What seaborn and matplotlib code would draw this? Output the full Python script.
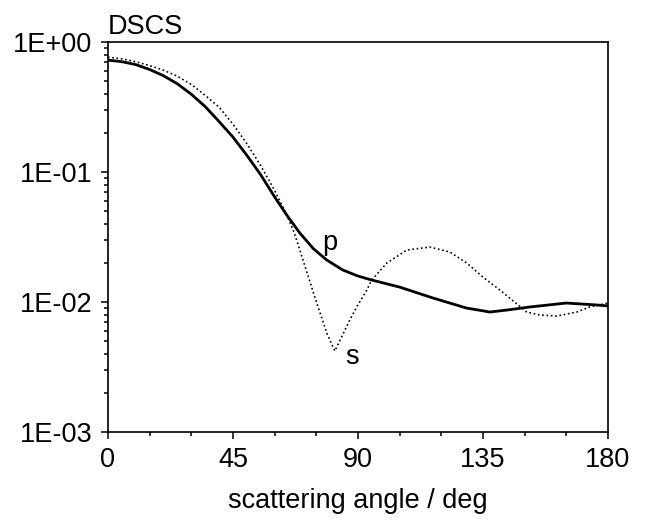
import numpy as np
import pandas as pd
import seaborn as sns
import matplotlib.pyplot as plt
from matplotlib.ticker import FixedLocator, FuncFormatter, LogLocator, NullFormatter

# values (angle in deg, log10 of DSCS)
p_angle = [0, 5, 10, 15, 20, 25, 30, 35, 40, 45, 50, 55, 60, 64.4, 69.1, 74, 78.8,
           84.6, 90, 95, 105, 117, 129, 137.5, 143.6, 152, 165, 176, 180]
p_log = [-0.138, -0.150, -0.172, -0.210, -0.258, -0.320, -0.400, -0.495, -0.610,
         -0.730, -0.870, -1.020, -1.190, -1.331, -1.469, -1.590, -1.677, -1.754,
         -1.800, -1.831, -1.885, -1.969, -2.046, -2.077, -2.062, -2.038, -2.008,
         -2.023, -2.030]

s_angle = [0, 5, 10, 15, 20, 25, 30, 35, 40, 45, 50, 55, 60, 64.4, 67, 69.1, 71.6,
           75.2, 78.8, 81.7, 87.1, 90, 93.2, 95, 100.4, 107.6, 115.9, 123.1, 129.2,
           135, 141.1, 150.8, 155.5, 161.6, 168.8, 173.5, 180]
s_log = [-0.115, -0.128, -0.150, -0.180, -0.215, -0.262, -0.325, -0.408, -0.500,
         -0.630, -0.780, -0.950, -1.140, -1.331, -1.462, -1.600, -1.769, -2.008,
         -2.238, -2.377, -2.138, -2.023, -1.908, -1.831, -1.700, -1.600, -1.577,
         -1.615, -1.700, -1.808, -1.908, -2.077, -2.100, -2.108, -2.077, -2.038,
         -2.008]

df_p = pd.DataFrame({'angle': p_angle, 'dscs': np.power(10.0, p_log)})
df_s = pd.DataFrame({'angle': s_angle, 'dscs': np.power(10.0, s_log)})

sns.set_theme(style='ticks')
plt.rcParams['font.family'] = ['Liberation Sans', 'DejaVu Sans']
plt.rcParams['text.color'] = 'black'
plt.rcParams['axes.labelcolor'] = 'black'

fig = plt.figure(figsize=(6.46, 5.21), dpi=100)
ax = fig.add_axes([0.167, 0.171, 0.774, 0.748])

sns.lineplot(data=df_p, x='angle', y='dscs', ax=ax, color='black', linewidth=2.0)
sns.lineplot(data=df_s, x='angle', y='dscs', ax=ax, color='black', linewidth=1.2,
             linestyle=(0, (1, 1.6)))

ax.set_yscale('log')
ax.set_xlim(0, 180)
ax.set_ylim(1e-3, 1)

ax.xaxis.set_major_locator(FixedLocator([0, 45, 90, 135, 180]))
ax.xaxis.set_minor_locator(FixedLocator(np.arange(0, 181, 15)))
ax.yaxis.set_major_locator(FixedLocator([1e-3, 1e-2, 1e-1, 1]))
ax.yaxis.set_major_formatter(FuncFormatter(lambda v, pos: f'{v:.0E}'))
ax.yaxis.set_minor_locator(LogLocator(base=10, subs=np.arange(2, 10)))
ax.yaxis.set_minor_formatter(NullFormatter())

ax.tick_params(which='major', direction='out', length=5, width=1.1, labelsize=19.5,
               pad=6, color='black', labelcolor='black')
ax.tick_params(which='minor', direction='out', length=3, width=1.1, color='black')
ax.tick_params(top=False, right=False, which='both')

for sp in ax.spines.values():
    sp.set_linewidth(1.2)
    sp.set_color('black')

ax.set_xlabel('scattering angle / deg', fontsize=19.5, labelpad=11)
ax.set_ylabel('')
ax.text(0.0, 1.005, 'DSCS', transform=ax.transAxes, ha='left', va='bottom', fontsize=19.5)

ax.text(79.9, 0.0284, 'p', ha='center', va='center', fontsize=19.5)
ax.text(87.8, 0.00378, 's', ha='center', va='center', fontsize=19.5)

plt.savefig('out.png', dpi=100)
